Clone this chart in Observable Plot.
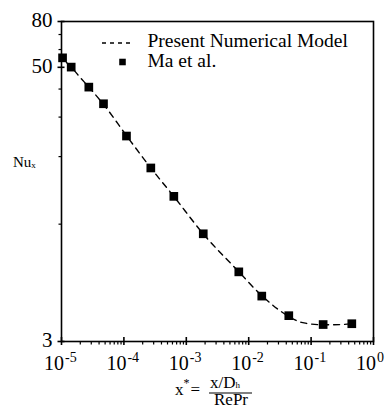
<!DOCTYPE html>
<html><head><meta charset="utf-8">
<script src="https://cdn.jsdelivr.net/npm/d3@7"></script>
<script src="https://cdn.jsdelivr.net/npm/@observablehq/plot@0.6"></script>
<style>body{margin:0;background:#fff} svg text{font-family:'Liberation Serif','Times New Roman',serif}</style>
</head><body><div id="chart"></div>
<script>
// Ma et al. experimental points
const maX  = [1.04e-5, 1.43e-5, 2.74e-5, 4.71e-5, 1.10e-4, 2.70e-4, 6.31e-4, 1.87e-3, 6.94e-3, 1.62e-2, 4.39e-2, 0.156, 0.449];
const maNu = [55.1, 50.1, 40.8, 34.4, 24.7, 17.8, 13.3, 9.06, 6.13, 4.78, 3.91, 3.57, 3.60];
// Present numerical model (dashed curve)
const modelX  = [1.2e-5, 1.43e-5, 2e-5, 2.74e-5, 4.71e-5, 1.1e-4, 2.7e-4, 6.3e-4, 1.87e-3, 6.9e-3, 1.62e-2, 4.4e-2, 7e-2, 0.156, 0.3, 0.449];
const modelNu = [52.5, 50.1, 45, 40.8, 34.2, 24.8, 17.8, 13.3, 9.05, 6.15, 4.8, 3.88, 3.65, 3.56, 3.57, 3.6];
// ticks
const xDecades = [1e-5, 1e-4, 1e-3, 1e-2, 1e-1, 1];
const xExponents = ["-5", "-4", "-3", "-2", "-1", "0"];
const yLabeled = [3, 50, 80];
const yMinor = [10, 20, 30, 40, 60, 70];
const legendLabels = ["Present Numerical Model", "Ma et al."];

const xMinor = xDecades.slice(0, -1).flatMap(d => d3.range(2, 10).map(k => k * d));
const font = "Liberation Serif";
const ma = maX.map((x, i) => ({x, y: maNu[i]}));
const model = modelX.map((x, i) => ({x, y: modelNu[i]}));

const W = 388, H = 409, mL = 61, mR = 15, mT = 21, mB = 68;
const fw = W - mL - mR, fh = H - mT - mB;

const plot = Plot.plot({
  width: W, height: H,
  marginLeft: mL, marginRight: mR, marginTop: mT, marginBottom: mB,
  style: {background: "white", color: "black", overflow: "visible"},
  x: {type: "log", domain: [1e-5, 1], axis: null},
  y: {type: "log", domain: [3, 80], axis: null},
  marks: [
    Plot.line(model, {x: "x", y: "y", curve: "monotone-x", stroke: "black", strokeWidth: 1.4, strokeDasharray: "6,5"}),
    Plot.dot(ma, {x: "x", y: "y", symbol: "square", r: 4.9, fill: "black", stroke: "none"}),
    Plot.frame({stroke: "black", strokeWidth: 1.6}),
    // x ticks
    Plot.tickX(xMinor, {x: d => d, insetTop: fh - 3.5, dy: 3.5, stroke: "black", strokeWidth: 1.2}),
    Plot.tickX(xDecades, {x: d => d, insetTop: fh - 8, dy: 4, stroke: "black", strokeWidth: 1.6}),
    // y ticks
    Plot.tickY(yMinor, {y: d => d, insetRight: fw - 2.5, dx: -2.5, stroke: "black", strokeWidth: 1.2}),
    Plot.tickY(yLabeled, {y: d => d, insetRight: fw - 7, dx: -3.5, stroke: "black", strokeWidth: 1.6}),
    // y tick labels
    Plot.text(yLabeled, {y: d => d, frameAnchor: "left", text: d => String(d), textAnchor: "end", dx: -9, dy: -1.5, fontSize: 21, fontFamily: font, lineAnchor: "middle", fill: "black"}),
    // legend texts
    Plot.text([legendLabels[0]], {frameAnchor: "top-left", dx: 86, dy: 19.6, textAnchor: "start", lineAnchor: "middle", fontSize: 19.5, fontFamily: font, fill: "black"}),
    Plot.text([legendLabels[1]], {frameAnchor: "top-left", dx: 86, dy: 39.6, textAnchor: "start", lineAnchor: "middle", fontSize: 19.5, fontFamily: font, fill: "black"}),
    Plot.dot([legendLabels[1]], {frameAnchor: "top-left", dx: 61, dy: 40.5, symbol: "square", r: 3.7, fill: "black", stroke: "none"})
  ]
});

const svg = d3.select(plot);
const xs = plot.scale("x");

// x tick labels 10^n as single texts with superscript tspans
xDecades.forEach((d, i) => {
  const t = svg.append("text")
    .attr("x", xs.apply(d) - 17).attr("y", H - mB + 28.5)
    .attr("text-anchor", "start")
    .attr("font-family", font).attr("font-size", 20).attr("fill", "black");
  t.append("tspan").text("10");
  t.append("tspan").attr("font-size", 14).attr("dy", -8).attr("dx", 1).text(xExponents[i]);
});

// legend dashed sample
svg.append("line")
  .attr("x1", mL + 41).attr("x2", mL + 72)
  .attr("y1", mT + 22).attr("y2", mT + 22)
  .attr("stroke", "black").attr("stroke-width", 1.6).attr("stroke-dasharray", "4,4");

// y axis title: Nu_x
const yt = svg.append("text").attr("x", 13).attr("y", 167).attr("text-anchor", "start")
  .attr("font-family", font).attr("font-size", 15).attr("fill", "black");
yt.append("tspan").text("Nu");
yt.append("tspan").attr("font-size", 9).attr("dy", 1).text("x");

// x axis title: x* = (x/Dh)/(RePr)
const g = svg.append("g").attr("font-family", font).attr("font-size", 17).attr("fill", "black");
const t1 = g.append("text").attr("x", 175).attr("y", 395).attr("text-anchor", "start");
t1.append("tspan").text("x");
t1.append("tspan").attr("font-size", 12).attr("dy", -8).text("*");
t1.append("tspan").attr("dy", 8).attr("dx", 1).text("=");
const num = g.append("text").attr("x", 210).attr("y", 388).attr("text-anchor", "start");
num.append("tspan").text("x/D");
num.append("tspan").attr("font-size", 9).text("h");
g.append("line").attr("x1", 209).attr("x2", 252).attr("y1", 393).attr("y2", 393)
  .attr("stroke", "black").attr("stroke-width", 1);
g.append("text").attr("x", 231).attr("y", 405).attr("text-anchor", "middle").text("RePr");

document.getElementById("chart").appendChild(plot);
</script>
</body></html>
